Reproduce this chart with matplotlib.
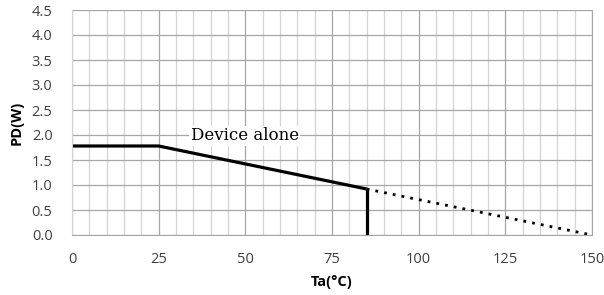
import numpy as np
import matplotlib
matplotlib.use('Agg')
import matplotlib.pyplot as plt
import matplotlib.ticker as mticker

### Data
ta_solid = [0, 25, 85]
pd_solid = [1.78, 1.78, 0.92]
ta_cut = [85, 85]
pd_cut = [0.92, 0.0]
ta_dot = [85, 150]
pd_dot = [0.92, 0.0]
xticks = [0, 25, 50, 75, 100, 125, 150]
yticks = [0.0, 0.5, 1.0, 1.5, 2.0, 2.5, 3.0, 3.5, 4.0, 4.5]

### Figure
f = plt.figure(figsize=(6.04, 2.95), dpi=100)
ax = f.add_axes([72/604, 1-235/295, 520/604, 225/295])

ax.set_xlim(0, 150)
ax.set_ylim(0, 4.5)
ax.set_xticks(xticks)
ax.set_yticks(yticks)
ax.yaxis.set_major_formatter(mticker.FormatStrFormatter('%.1f'))
ax.xaxis.set_minor_locator(mticker.MultipleLocator(5))

ax.grid(which='minor', axis='x', color='#d4d4d4', lw=0.9)
ax.grid(which='major', axis='both', color='#a6a6a6', lw=0.9)
ax.set_axisbelow(True)
ax.tick_params(which='both', length=0)
ax.tick_params(axis='x', pad=12)
ax.tick_params(axis='y', pad=14)
for s in ['top', 'left']:
    ax.spines[s].set_visible(False)
ax.spines['bottom'].set_color('#a6a6a6')
ax.spines['right'].set_color('#a6a6a6')
ax.spines['left'].set_visible(True)
ax.spines['left'].set_color('#d4d4d4')

for lab in ax.get_xticklabels() + ax.get_yticklabels():
    lab.set_fontsize(10.5)
    lab.set_color('#404040')
    lab.set_family('Open Sans')

ax.plot(ta_solid, pd_solid, color='black', lw=2.3, solid_capstyle='butt')
ax.plot(ta_cut, pd_cut, color='black', lw=2.3, solid_capstyle='butt')
ax.plot(ta_dot, pd_dot, color='black', lw=2.0, linestyle=(0, (1, 2.2)))

ax.text(34.2, 1.98, 'Device alone', fontsize=12, family='DejaVu Serif',
        va='center', ha='left',
        bbox=dict(facecolor='white', edgecolor='none', pad=1))

ax.set_xlabel('Ta(°C)', fontsize=10.5, fontweight='bold', family='Open Sans', labelpad=6)
ax.set_ylabel('PD(W)', fontsize=10.5, fontweight='bold', family='Open Sans', labelpad=6)

f.savefig('out.png', dpi=100)
